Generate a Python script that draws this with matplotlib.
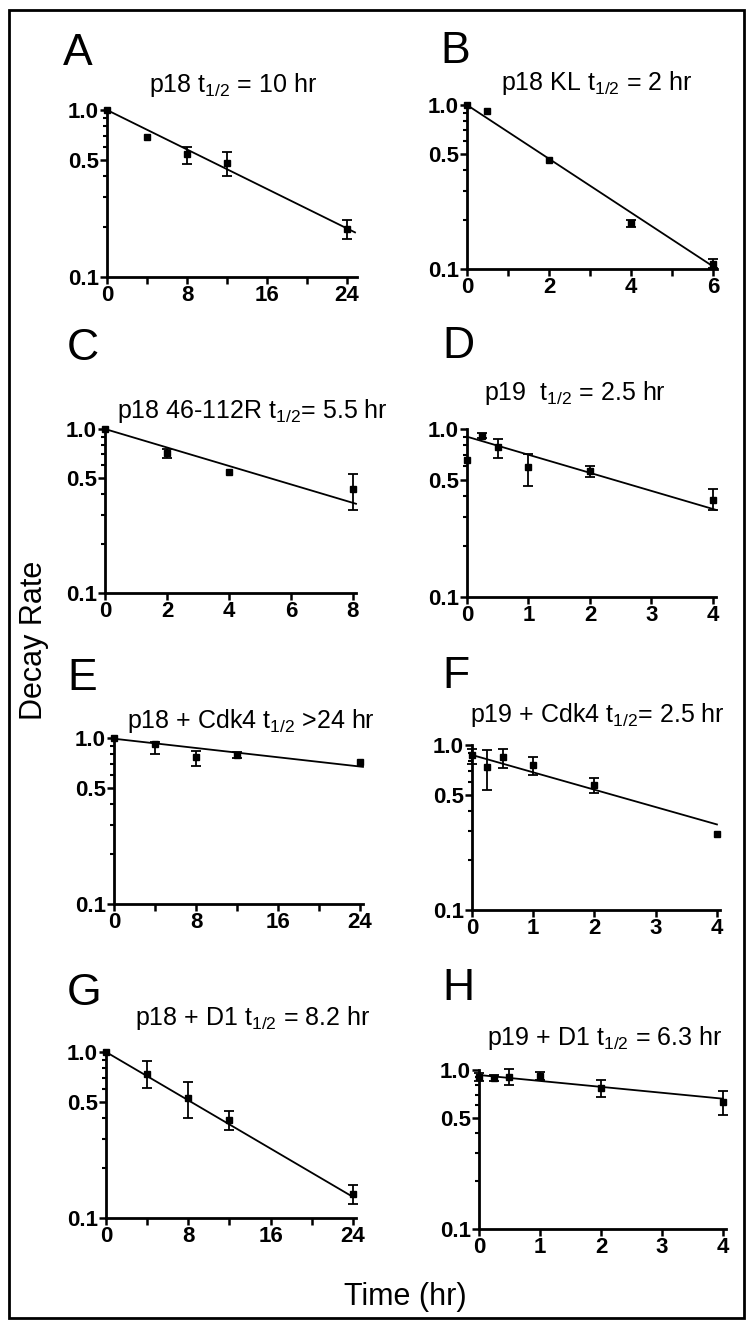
import numpy as np
import matplotlib
matplotlib.use("Agg")
import matplotlib.pyplot as plt
from matplotlib.patches import Rectangle
from matplotlib.ticker import FixedLocator, NullFormatter

plt.rcParams['font.family'] = ['Liberation Sans', 'DejaVu Sans']
plt.rcParams['mathtext.fontset'] = 'custom'
plt.rcParams['mathtext.rm'] = 'Liberation Sans'
plt.rcParams['mathtext.it'] = 'Liberation Sans'

# data: time (hr), mean, error bar low/high (None = no bar)
a_t = [0, 4, 8, 12, 24]
a_y = [1.0, 0.69, 0.545, 0.48, 0.195]
a_lo = [None, None, 0.475, 0.40, 0.17]
a_hi = [None, None, 0.60, 0.56, 0.22]
a_fit = ([0, 24.8], [1.0, 0.185])

b_t = [0, 0.5, 2, 4, 6]
b_y = [1.0, 0.92, 0.46, 0.19, 0.108]
b_lo = [None, None, None, 0.18, 0.102]
b_hi = [None, None, None, 0.20, 0.115]
b_fit = ([0, 6.1], [1.0, 0.1])

c_t = [0, 2, 4, 8]
c_y = [1.0, 0.71, 0.55, 0.43]
c_lo = [None, 0.67, None, 0.32]
c_hi = [None, 0.75, None, 0.53]
c_fit = ([0, 8.1], [1.0, 0.35])

d_t = [0, 0.25, 0.5, 1, 2, 4]
d_y = [0.65, 0.91, 0.78, 0.59, 0.56, 0.38]
d_lo = [None, 0.88, 0.67, 0.46, 0.52, 0.33]
d_hi = [None, 0.95, 0.87, 0.71, 0.60, 0.44]
d_fit = ([0, 4.05], [0.90, 0.33])

e_t = [0, 4, 8, 12, 24]
e_y = [1.0, 0.92, 0.77, 0.79, 0.72]
e_lo = [None, 0.80, 0.68, 0.76, None]
e_hi = [None, 0.94, 0.84, 0.82, None]
e_fit = ([0, 24.3], [0.99, 0.67])

f_t = [0, 0.25, 0.5, 1, 2, 4]
f_y = [0.87, 0.74, 0.84, 0.76, 0.57, 0.29]
f_lo = [0.77, 0.53, 0.73, 0.66, 0.51, None]
f_hi = [0.95, 0.93, 0.94, 0.85, 0.63, None]
f_fit = ([0, 4.0], [0.87, 0.33])

g_t = [0, 4, 8, 12, 24]
g_y = [1.0, 0.74, 0.53, 0.39, 0.14]
g_lo = [None, 0.61, 0.40, 0.34, 0.122]
g_hi = [None, 0.88, 0.66, 0.44, 0.157]
g_fit = ([0, 24], [1.0, 0.134])

h_t = [0, 0.25, 0.5, 1, 2, 4]
h_y = [0.90, 0.89, 0.90, 0.92, 0.77, 0.63]
h_lo = [0.85, 0.85, 0.81, 0.87, 0.68, 0.52]
h_hi = [0.96, 0.93, 1.02, 0.97, 0.86, 0.74]
h_fit = ([0, 4], [0.93, 0.66])

titles = [r'p18 t$_{1/2}$ = 10 hr', r'p18 KL t$_{1/2}$ = 2 hr',
          r'p18 46-112R t$_{1/2}$= 5.5 hr', r'p19  t$_{1/2}$ = 2.5 hr',
          r'p18 + Cdk4 t$_{1/2}$ >24 hr', r'p19 + Cdk4 t$_{1/2}$= 2.5 hr',
          r'p18 + D1 t$_{1/2}$ = 8.2 hr', r'p19 + D1 t$_{1/2}$ = 6.3 hr']
letters = list('ABCDEFGH')

W, H = 750, 1326
fig = plt.figure(figsize=(W / 100, H / 100), dpi=100)

# pixel layout: left, right, top, bottom of each plot box, xmax, major, minor x ticks
panels = [
    (a_t, a_y, a_lo, a_hi, a_fit, (107, 357, 110, 277), 25, [0, 8, 16, 24], [4, 12, 20]),
    (b_t, b_y, b_lo, b_hi, b_fit, (467, 717, 105, 269), 6.1, [0, 2, 4, 6], [1, 3, 5]),
    (c_t, c_y, c_lo, c_hi, c_fit, (105, 356, 429, 593), 8.1, [0, 2, 4, 6, 8], []),
    (d_t, d_y, d_lo, d_hi, d_fit, (467, 716, 429, 597), 4.05, [0, 1, 2, 3, 4], []),
    (e_t, e_y, e_lo, e_hi, e_fit, (114, 363, 738, 904), 24.3, [0, 8, 16, 24], [4, 12, 20]),
    (f_t, f_y, f_lo, f_hi, f_fit, (472, 720, 745, 910), 4.05, [0, 1, 2, 3, 4], []),
    (g_t, g_y, g_lo, g_hi, g_fit, (106, 356, 1052, 1218), 24.3, [0, 8, 16, 24], [4, 12, 20]),
    (h_t, h_y, h_lo, h_hi, h_fit, (479, 726, 1070, 1229), 4.05, [0, 1, 2, 3, 4], []),
]
title_pos = [(233, 92), (597, 90), (252, 418), (575, 400),
             (251, 728), (597, 722), (253, 1025), (605, 1045)]
letter_pos = [(63, 65), (440, 63), (67, 360), (442, 358),
              (67, 690), (442, 688), (67, 1005), (442, 1000)]

for i, (t, y, lo, hi, fit, box, xmax, xmaj, xmin, ) in enumerate(panels):
    l, r, tp, bt = box
    ax = fig.add_axes([l / W, 1 - bt / H, (r - l) / W, (bt - tp) / H])
    ax.set_yscale('log')
    ax.set_ylim(0.1, 1.0)
    ax.set_xlim(0, xmax)
    ax.plot(fit[0], fit[1], color='black', lw=1.3, clip_on=False, zorder=2)
    t = np.array(t, dtype=float)
    y = np.array(y)
    has = [k for k in range(len(t)) if lo[k] is not None]
    if has:
        yl = np.array([y[k] - lo[k] for k in has])
        yh = np.array([hi[k] - y[k] for k in has])
        ax.errorbar(t[has], y[has], yerr=[yl, yh], fmt='none', ecolor='black',
                    elinewidth=1.3, capsize=3.5, capthick=1.3, clip_on=False, zorder=3)
    ax.plot(t, y, 's', color='black', ms=4, clip_on=False, zorder=4)

    for s in ['top', 'right']:
        ax.spines[s].set_visible(False)
    for s in ['left', 'bottom']:
        ax.spines[s].set_linewidth(2)
    ax.xaxis.set_major_locator(FixedLocator(xmaj))
    ax.xaxis.set_minor_locator(FixedLocator(xmin))
    ax.set_xticklabels([str(v) for v in xmaj])
    ax.yaxis.set_major_locator(FixedLocator([0.1, 0.5, 1.0]))
    ax.yaxis.set_minor_locator(FixedLocator([0.2, 0.3, 0.4, 0.6, 0.7, 0.8, 0.9]))
    ax.yaxis.set_minor_formatter(NullFormatter())
    ax.set_yticklabels(['0.1', '0.5', '1.0'])
    ax.tick_params(axis='both', which='major', direction='out', length=5, width=1.8,
                   labelsize=16, pad=1)
    ax.tick_params(axis='x', which='minor', direction='out', length=5, width=1.8)
    ax.tick_params(axis='y', which='minor', direction='out', length=3, width=1.5)
    for lab in ax.get_xticklabels() + ax.get_yticklabels():
        lab.set_fontweight('bold')

    tx, ty = title_pos[i]
    fig.text(tx / W, 1 - ty / H, titles[i], ha='center', va='baseline', fontsize=18)
    lx, ly = letter_pos[i]
    fig.text(lx / W, 1 - ly / H, letters[i], ha='left', va='baseline', fontsize=32)

fig.text(34 / W, 1 - 640 / H, 'Decay Rate', rotation=90, ha='center', va='center', fontsize=22)
fig.text(405 / W, 1 - 1305 / H, 'Time (hr)', ha='center', va='baseline', fontsize=22)

fig.patches.append(Rectangle((9 / W, 1 - 1318 / H), 735 / W, 1308 / H,
                             transform=fig.transFigure, fill=False, lw=2,
                             edgecolor='black'))

fig.savefig('out.png', dpi=100)
